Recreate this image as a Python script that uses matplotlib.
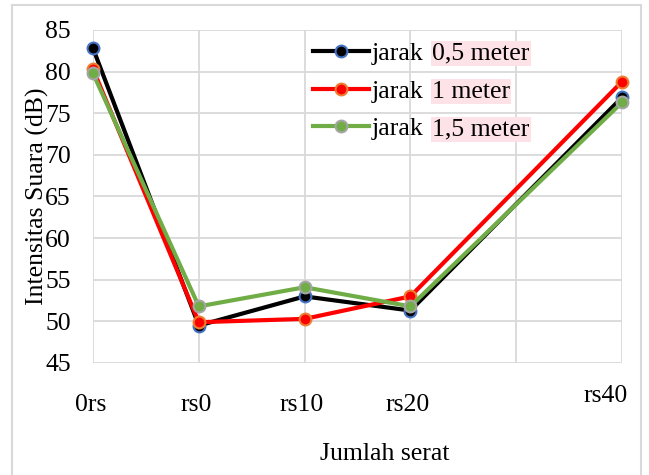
import matplotlib
matplotlib.use("Agg")
import matplotlib.pyplot as plt
from matplotlib.patches import Rectangle

plt.rcParams["font.family"] = ["Liberation Serif", "DejaVu Serif"]

# data
categories = ["0rs", "rs0", "rs10", "rs20", "rs40"]
x_pos = [0, 10, 20, 30, 50]
jarak_05 = [82.8, 49.5, 53.0, 51.3, 76.9]
jarak_1 = [80.3, 49.9, 50.3, 53.0, 78.8]
jarak_15 = [79.8, 51.8, 54.1, 51.8, 76.3]

series = [
    ("jarak", "0,5 meter", jarak_05, "black", "#4472C4"),
    ("jarak", "1 meter", jarak_1, "#FF0000", "#ED7D31"),
    ("jarak", "1,5 meter", jarak_15, "#70AD47", "#A5A5A5"),
]

FS = 18.5

fig = plt.figure(figsize=(6.49, 4.75), dpi=100)
ax = fig.add_axes([93 / 649, 1 - 363 / 475, (622 - 93) / 649, (363 - 30) / 475])

# outer chart border
fig.patches.append(Rectangle((12 / 649, -0.05), (641 - 12) / 649, 1 - 5 / 475 + 0.05,
                             transform=fig.transFigure, fill=False,
                             edgecolor="#D9D9D9", linewidth=1.5))

for head, tail, vals, col, edge in series:
    ax.plot(x_pos, vals, color=col, linewidth=3.0, marker="o", markersize=8.5,
            markerfacecolor=col, markeredgecolor=edge, markeredgewidth=1.5,
            label=head, zorder=3, clip_on=False)

ax.set_xlim(0, 50)
ax.set_ylim(45, 85)
ax.set_xticks(range(0, 51, 10))
ax.set_yticks(range(45, 86, 5))
ax.set_xticklabels([])
ax.grid(True, color="#D9D9D9", linewidth=1.3)
ax.set_axisbelow(True)
for s in ax.spines.values():
    s.set_visible(False)
ax.tick_params(axis="both", length=0, labelsize=FS, pad=16)

# category labels under the plot
for xv, lab in zip(x_pos, categories):
    if lab == "rs40":
        dx, dy = -12, -24
    else:
        dx, dy = -2, -30
    ax.annotate(lab, xy=(xv, 45), xycoords="data", xytext=(dx, dy),
                textcoords="offset points", ha="center", va="center", fontsize=FS)

ax.set_ylabel("Intensitas Suara (dB)", fontsize=FS, labelpad=-3)
fig.text(385 / 649, 1 - 454 / 475, "Jumlah serat", ha="center", va="center", fontsize=FS)

leg = ax.legend(loc="upper left", bbox_to_anchor=(0.415, 0.965), frameon=False,
                fontsize=FS, handlelength=2.2, handletextpad=0.12,
                labelspacing=0.58, borderaxespad=0.0, borderpad=0.0)

# highlighted second half of each legend label
fig.canvas.draw()
for txt, (head, tail, *_rest) in zip(leg.get_texts(), series):
    bb = txt.get_window_extent()
    fig.text(bb.x1 + 8, bb.y0, tail, transform=None, ha="left", va="bottom",
             fontsize=FS,
             bbox=dict(boxstyle="square,pad=0.05", facecolor="#FDE2E8", edgecolor="none"))

fig.savefig("out.png", dpi=100)
